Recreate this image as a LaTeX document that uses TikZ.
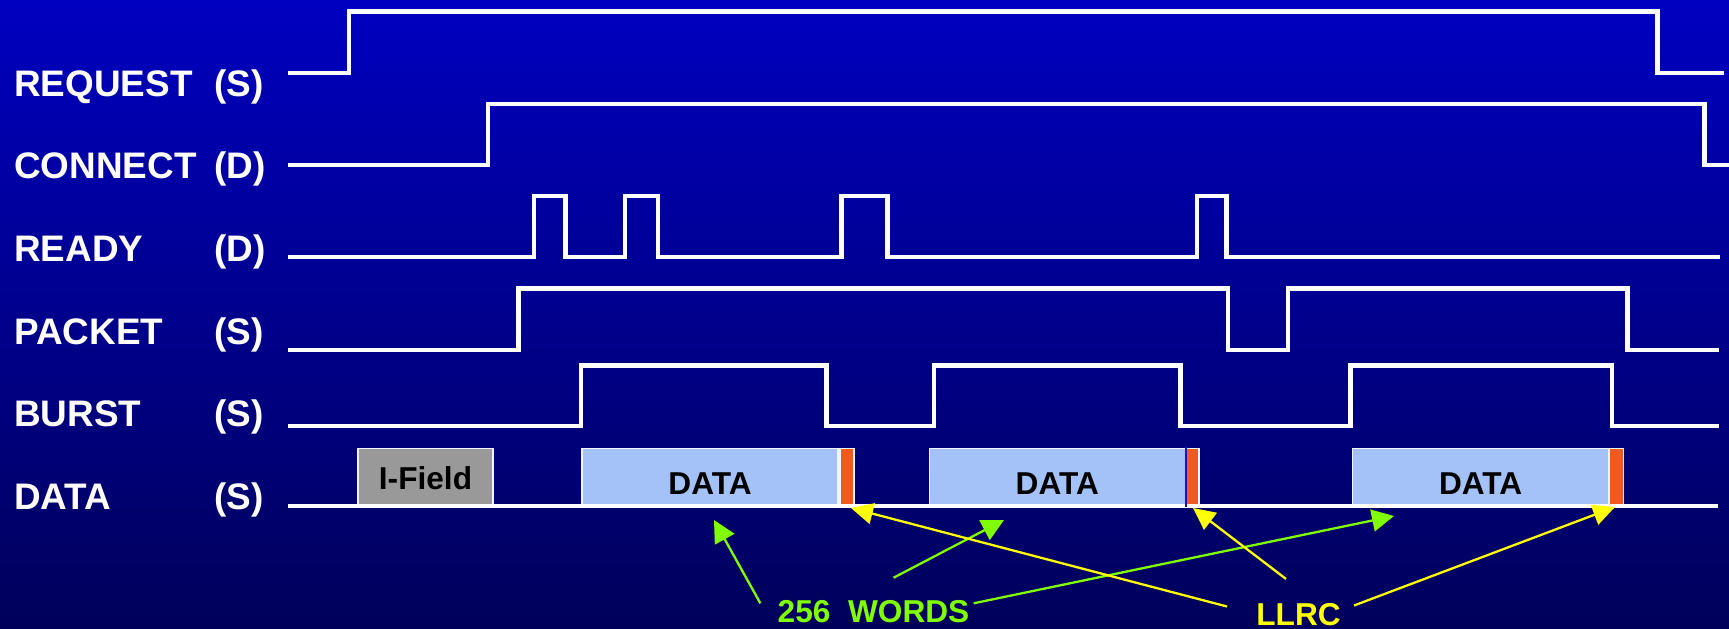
\documentclass[tikz,border=0pt]{standalone}
\usepackage{fontspec}
\setmainfont{Liberation Sans}
\usepackage{xcolor}
\definecolor{bgTop}{HTML}{0000C0}
\definecolor{bgBottom}{HTML}{00005A}
\definecolor{fieldGray}{HTML}{999999}
\definecolor{dataBlue}{HTML}{A4C2F8}
\definecolor{llrcOrange}{HTML}{F05A1E}
\definecolor{seamBlue}{HTML}{1414C8}
\definecolor{noteGreen}{HTML}{80FF00}
\definecolor{noteYellow}{HTML}{FFFF00}
\usetikzlibrary{arrows.meta}

\begin{document}
\begin{tikzpicture}[x=0.2mm, y=-0.2mm,
  wave/.style={white, line width=2.5pt},
  sig/.style={anchor=base west, inner sep=0pt, text=white, font=\fontsize{21}{25}\selectfont\bfseries},
  field/.style={anchor=south, draw=white!85!dataBlue, line width=0.8pt, inner sep=0pt, minimum height=57*0.2mm, text height=19.6pt, text depth=0pt, font=\fontsize{18}{21}\selectfont\bfseries},
  note/.style={inner sep=0pt, font=\fontsize{18}{21}\selectfont\bfseries},
  wordarrow/.style={noteGreen, line width=1.3pt, -{Triangle[length=4.4mm, width=4.4mm]}},
  llrcarrow/.style={noteYellow, line width=1.3pt, -{Triangle[length=4.4mm, width=4.2mm]}}]
  \shade[top color=bgTop, bottom color=bgBottom] (0,0) rectangle (1729,629);
  \useasboundingbox (0,0) rectangle (1729,629);

  % signal names and sources
  \node[sig] (requestName) at (14,96.5) {REQUEST};
  \node[sig] (requestSrc) at (214,96.5) {(S)};
  \node[sig] (connectName) at (14,178.5) {CONNECT};
  \node[sig] (connectSrc) at (214,178.5) {(D)};
  \node[sig] (readyName) at (14,261.5) {READY};
  \node[sig] (readySrc) at (214,261.5) {(D)};
  \node[sig] (packetName) at (14,344.5) {PACKET};
  \node[sig] (packetSrc) at (214,344.5) {(S)};
  \node[sig] (burstName) at (14,426.5) {BURST};
  \node[sig] (burstSrc) at (214,426.5) {(S)};
  \node[sig] (dataName) at (14,509.5) {DATA};
  \node[sig] (dataSrc) at (214,509.5) {(S)};

  % waveforms
  \draw[wave] (288,73) -| (349,11.5) -| (1657.5,73) -- (1724,73);
  \draw[wave] (288,165) -| (488,104) -| (1704.5,165) -- (1729,165);
  \draw[wave] (288,257) -| (534,196) -| (565.5,257) -| (625,196) -| (658,257)
    -| (841.5,196) -| (887.5,257) -| (1197,196) -| (1226.5,257) -- (1720,257);
  \draw[wave] (288,350) -| (518.5,288.5) -| (1228,350) -| (1288,288.5)
    -| (1627.5,350) -- (1719,350);
  \draw[wave] (288,426) -| (581,365.5) -| (826.5,426) -| (934,365.5)
    -| (1180.5,426) -| (1350.5,365.5) -| (1612,426) -- (1719,426);

  % data bus fields
  \node[field, fill=fieldGray, minimum width=135*0.2mm, text height=15pt] (ifield) at (425.5,506) {I-Field};
  \node[field, fill=dataBlue, minimum width=256*0.2mm] (data1) at (710,506) {DATA};
  \node[field, fill=llrcOrange, minimum width=14*0.2mm] (llrc1) at (847,506) {};
  \node[field, fill=dataBlue, minimum width=256*0.2mm] (data2) at (1057.3,506) {DATA};
  \node[field, fill=llrcOrange, minimum width=13*0.2mm] (llrc2) at (1192.5,506) {};
  \node[field, fill=dataBlue, minimum width=256*0.2mm] (data3) at (1480.7,506) {DATA};
  \node[field, fill=llrcOrange, minimum width=14*0.2mm] (llrc3) at (1616.5,506) {};
  \draw[wave] (288,506) -- (1718,506);
  \draw[seamBlue, line width=0.9pt] (1186,447) -- (1186,507);

  % annotations
  \node[note, text=noteGreen] (words) at (873.5,611.3) {256\ \ WORDS};
  \node[note, text=noteYellow] (llrc) at (1298.5,614.5) {LLRC};
  \coordinate (w1) at (714,520);
  \coordinate (w2) at (1004,520);
  \coordinate (w3) at (1394,516);
  \coordinate (c1) at (851,508);
  \coordinate (c2) at (1193,508);
  \coordinate (c3) at (1615,507);
  \draw[wordarrow] ([shift={(-17,-8)}]words.west) -- (w1);
  \draw[wordarrow] ([shift={(20,-22)}]words.north) -- (w2);
  \draw[wordarrow] ([shift={(4,-8)}]words.east) -- (w3);
  \draw[llrcarrow] ([shift={(-29,-8)}]llrc.west) -- (c1);
  \draw[llrcarrow] ([shift={(-12.5,-24)}]llrc.north) -- (c2);
  \draw[llrcarrow] ([shift={(13,-9)}]llrc.east) -- (c3);
\end{tikzpicture}
\end{document}
